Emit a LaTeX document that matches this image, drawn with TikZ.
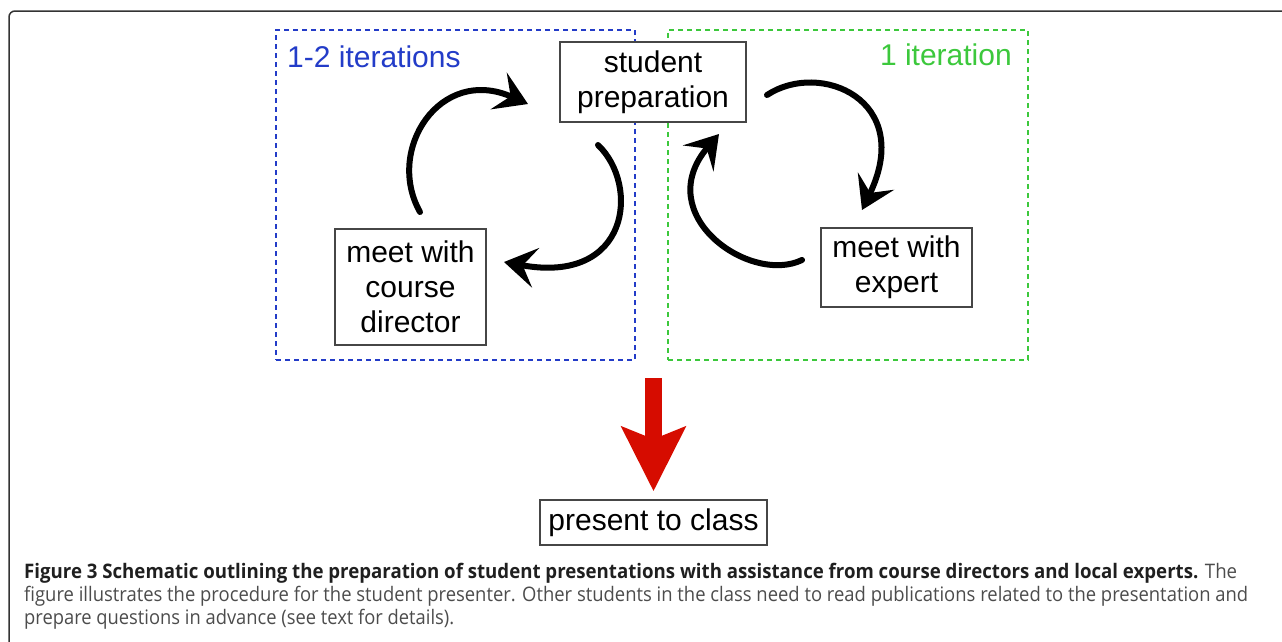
\documentclass[tikz,border=0pt]{standalone}
\usepackage{graphicx}
\usepackage{fontspec}
\setmainfont{Liberation Sans}
\newfontfamily\capfont{Open Sans}
\usetikzlibrary{arrows.meta}
\definecolor{iterblue}{RGB}{35,60,200}
\definecolor{itergreen}{RGB}{60,200,60}
\definecolor{arrred}{RGB}{214,12,0}
\definecolor{boxgray}{RGB}{70,70,70}
\newsavebox\mycapbox
\newlength\mycaplen
\newcommand\mycapline[2]{\sbox\mycapbox{#2}\setlength\mycaplen{\wd\mycapbox}\pgfmathsetmacro\mysx{#1/\mycaplen}\scalebox{\mysx}[1]{\usebox\mycapbox}}
\begin{document}
\begin{tikzpicture}[x=1pt,y=-1pt,
  stepbox/.style={draw=boxgray, line width=1.5pt, fill=white, align=center,
    font=\fontsize{30}{35}\selectfont, inner sep=0pt},
  groupbox/.style={line width=2pt, dash pattern=on 5pt off 4pt, inner sep=0pt,
    minimum height=330pt},
  looparrow/.style={line width=6pt, black, line cap=round,
    -{Stealth[length=32pt,width=40pt,inset=13pt]}},
  grouplabel/.style={inner sep=0pt, font=\fontsize{30}{35}\selectfont},
  capline/.style={anchor=base west, inner sep=0pt, text=black!70,
    font=\capfont\fontsize{20}{23}\selectfont}]
\useasboundingbox (0,0) rectangle (1282,641);
% outer frame
\draw[line width=1.5pt, black!80, rounded corners=6pt] (9,645) -- (9,11) -- (1290,11);
% group boxes
\node[groupbox, draw=iterblue, minimum width=359pt] (bluebox) at (455.5,195) {};
\node[groupbox, draw=itergreen, minimum width=360pt] (greenbox) at (848,195) {};
\node[grouplabel, anchor=base west, text=iterblue] (bluelabel) at (287,67) {1-2 iterations};
\node[grouplabel, anchor=base east, text=itergreen] (greenlabel) at (1012,65) {1 iteration};
% step boxes
\node[stepbox, minimum width=186pt, minimum height=80pt] (sp) at (653,82) {student\\preparation};
\node[stepbox, minimum width=151pt, minimum height=116pt] (cd) at (410.5,287) {meet with\\course\\director};
\node[stepbox, minimum width=151pt, minimum height=79pt] (ex) at (896.5,267.5) {meet with\\expert};
\node[stepbox, minimum width=227pt, minimum height=45pt] (pc) at (653.5,522.5) {present to class};
% loop arrows
\coordinate (a1s) at (420,212); \coordinate (a1e) at (528,104);
\coordinate (a2s) at (598,145); \coordinate (a2e) at (504,262);
\coordinate (a3s) at (767,95);  \coordinate (a3e) at (862,210);
\coordinate (a4s) at (802,260); \coordinate (a4e) at (719,134);
\draw[looparrow] (a1s) .. controls (385,150) and (440,65) .. (a1e);
\draw[looparrow] (a2s) .. controls (640,185) and (630,285) .. (a2e);
\draw[looparrow] (a3s) .. controls (820,60) and (915,100) .. (a3e);
\draw[looparrow] (a4s) .. controls (750,285) and (650,215) .. (a4e);
% red arrow
\coordinate (redtop) at (653.5,378);
\draw[arrred, line width=17pt, -{Stealth[length=64pt,width=63pt,inset=12pt]}] (redtop) -- ([yshift=8pt]pc.north);
% caption
\node[capline] (cap1) at (24,578) {\mycapline{1213}{\textbf{\color{black!88}Figure 3 Schematic outlining the preparation of student presentations with assistance from course directors and local experts.} The}};
\node[capline] (cap2) at (24,601) {\mycapline{1224}{figure illustrates the procedure for the student presenter. Other students in the class need to read publications related to the presentation and}};
\node[capline] (cap3) at (24,624) {\mycapline{430}{prepare questions in advance (see text for details).}};
\end{tikzpicture}
\end{document}
